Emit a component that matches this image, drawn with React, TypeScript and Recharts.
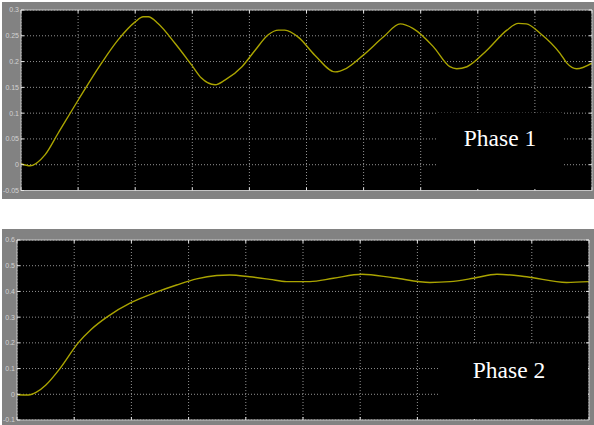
import { CartesianGrid, Line, LineChart, XAxis, YAxis } from 'recharts';

// scope time divisions (no labels on the x axis in the original)
const timeTicks = [0, 1, 2, 3, 4, 5, 6, 7, 8, 9, 10];

const phase1Ticks = [-0.05, 0, 0.05, 0.1, 0.15, 0.2, 0.25, 0.3];
const phase2Ticks = [-0.1, 0, 0.1, 0.2, 0.3, 0.4, 0.5, 0.6];

const phase1Time = [
  0, 0.16, 0.42, 0.65, 1.0, 1.41, 1.7, 2.0, 2.14, 2.23, 2.4, 2.7, 2.99, 3.16, 3.4, 3.57, 3.87, 4.1,
  4.33, 4.51, 4.62, 4.86, 5.15, 5.5, 5.7, 6.0, 6.35, 6.64, 6.87, 7.22, 7.51, 7.63, 7.81, 8.16, 8.51,
  8.71, 8.85, 9.09, 9.44, 9.56, 9.73, 10,
];
const phase1Value = [
  0.002, -0.002, 0.019, 0.061, 0.125, 0.197, 0.242, 0.277, 0.287, 0.287, 0.274, 0.235, 0.193, 0.168,
  0.155, 0.164, 0.19, 0.222, 0.252, 0.261, 0.261, 0.247, 0.212, 0.18, 0.187, 0.213, 0.248, 0.273,
  0.264, 0.229, 0.19, 0.186, 0.19, 0.222, 0.261, 0.274, 0.273, 0.255, 0.216, 0.197, 0.186, 0.197,
];

const phase2Time = [
  0, 0.2, 0.34, 0.5, 0.75, 1.07, 1.3, 1.57, 2.0, 2.47, 2.79, 3.14, 3.49, 3.72, 4.07, 4.42, 4.71,
  5.12, 5.53, 6.03, 6.58, 7.22, 7.57, 7.98, 8.39, 8.91, 9.61, 10,
];
const phase2Value = [
  -0.002, -0.003, 0.008, 0.035, 0.1, 0.2, 0.253, 0.3, 0.357, 0.4, 0.425, 0.449, 0.462, 0.464,
  0.457, 0.447, 0.438, 0.438, 0.451, 0.467, 0.453, 0.435, 0.438, 0.451, 0.467, 0.457, 0.435, 0.438,
];

const toPoints = (time: number[], value: number[]) => time.map((t, i) => ({ t, v: value[i] }));

type Box = { left: number; top: number; width: number; height: number };

type ScopeProps = {
  label: string;
  time: number[];
  value: number[];
  yTicks: number[];
  top: number;
  height: number;
  margin: { top: number; right: number; bottom: number; left: number };
  labelWidth: number;
  box: Box;
  textX: number;
  textTop: number;
};

const tickStroke = '#e6e6e6';
const borderStroke = '#c4c4c4';

// tick marks only, no labels
const noLabel = () => <g />;

function ScopePanel(props: ScopeProps) {
  const { label, time, value, yTicks, top, height, margin, labelWidth, box, textX, textTop } = props;
  const domain = [yTicks[0], yTicks[yTicks.length - 1]];
  return (
    <div style={{ position: 'absolute', left: 0, top, width: 594, height }}>
      <div style={{ position: 'absolute', left: 2, top: 0, width: 592, height, background: '#828282' }} />
      <div style={{ position: 'absolute', left: 0, top: 0 }}>
        <LineChart width={594} height={height} data={toPoints(time, value)} margin={margin}>
          <CartesianGrid stroke="#939393" strokeDasharray="1 2" fill="#000" />
          <XAxis
            dataKey="t"
            type="number"
            domain={[0, 10]}
            ticks={timeTicks}
            allowDataOverflow
            height={1}
            tick={noLabel}
            tickSize={-3}
            tickLine={{ stroke: tickStroke }}
            axisLine={{ stroke: borderStroke }}
          />
          <XAxis
            xAxisId="top"
            orientation="top"
            dataKey="t"
            type="number"
            domain={[0, 10]}
            ticks={timeTicks}
            allowDataOverflow
            height={1}
            tick={noLabel}
            tickSize={-3}
            tickLine={{ stroke: tickStroke }}
            axisLine={{ stroke: borderStroke }}
          />
          <YAxis
            type="number"
            domain={domain}
            ticks={yTicks}
            allowDataOverflow
            width={labelWidth}
            tickSize={-3}
            tickMargin={5}
            tickLine={{ stroke: tickStroke }}
            axisLine={{ stroke: borderStroke }}
            tick={{ fill: '#d2d2d2', fontSize: 7, fontFamily: 'Liberation Sans, Arial, sans-serif' }}
          />
          <YAxis
            yAxisId="right"
            orientation="right"
            type="number"
            domain={domain}
            ticks={yTicks}
            allowDataOverflow
            width={1}
            tick={noLabel}
            tickSize={-3}
            tickLine={{ stroke: tickStroke }}
            axisLine={{ stroke: borderStroke }}
          />
          <Line
            type="monotone"
            dataKey="v"
            stroke="#aaa400"
            strokeWidth={1.4}
            dot={false}
            isAnimationActive={false}
          />
        </LineChart>
      </div>
      <div
        style={{
          position: 'absolute',
          left: box.left,
          top: box.top,
          width: box.width,
          height: box.height,
          background: '#000',
        }}
      />
      <div
        style={{
          position: 'absolute',
          left: textX,
          top: textTop,
          transform: 'translateX(-50%)',
          whiteSpace: 'nowrap',
          color: '#fff',
          fontFamily: '"Liberation Serif", "Times New Roman", serif',
          fontSize: 23.5,
          lineHeight: 1,
        }}
      >
        {label}
      </div>
    </div>
  );
}

export default function App() {
  return (
    <div style={{ position: 'absolute', left: 0, top: 0, width: 594, height: 425, background: '#fff', overflow: 'hidden' }}>
      <ScopePanel
        label="Phase 1"
        time={phase1Time}
        value={phase1Value}
        yTicks={phase1Ticks}
        top={2}
        height={197}
        margin={{ top: 7, right: 1, bottom: 7.5, left: 2 }}
        labelWidth={19}
        box={{ left: 437, top: 111, width: 126, height: 76 }}
        textX={500}
        textTop={125}
      />
      <ScopePanel
        label="Phase 2"
        time={phase2Time}
        value={phase2Value}
        yTicks={phase2Ticks}
        top={229}
        height={196}
        margin={{ top: 10, right: 4, bottom: 4, left: 2 }}
        labelWidth={15}
        box={{ left: 438, top: 116, width: 150, height: 74 }}
        textX={509}
        textTop={130}
      />
    </div>
  );
}
